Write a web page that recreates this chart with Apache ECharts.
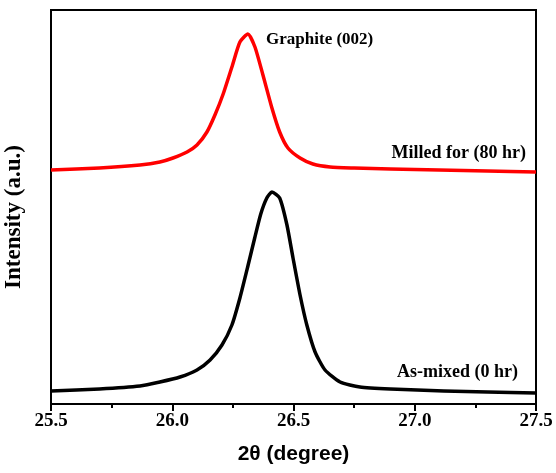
<!DOCTYPE html>
<html>
<head>
<meta charset="utf-8">
<script src="https://cdn.jsdelivr.net/npm/echarts@6/dist/echarts.min.js"></script>
<style>
  html, body { margin: 0; padding: 0; background: #fff; }
  #chart { width: 556px; height: 473px; }
</style>
</head>
<body>
<div id="chart"></div>
<script>
// 2θ 位置 (degree) 和强度 (a.u.)
var milledX = [25.5, 25.7, 25.867, 25.949, 26.003, 26.061, 26.102, 26.143, 26.176, 26.21, 26.246, 26.279, 26.312, 26.341, 26.374, 26.411, 26.443, 26.477, 26.527, 26.58, 26.651, 26.75, 26.9, 27.1, 27.3, 27.5];
var milledY = [234, 236, 239, 242, 246, 252, 259, 272, 289, 310, 337, 362, 370, 357, 329, 296, 272, 256, 246, 240, 237, 236, 235, 234, 233, 232];

var mixedX = [25.5, 25.7, 25.867, 25.949, 26.032, 26.102, 26.156, 26.205, 26.246, 26.279, 26.312, 26.34, 26.365, 26.39, 26.411, 26.443, 26.473, 26.498, 26.527, 26.555, 26.589, 26.63, 26.692, 26.774, 26.9, 27.12, 27.3, 27.5];
var mixedY = [13, 15, 18, 22, 27, 34, 44, 59, 79, 106, 138, 166, 190, 206, 212, 206, 179, 146, 109, 79, 52, 34, 22, 17, 15, 13, 12, 11];

function pairs(xs, ys) {
    return xs.map(function (x, i) { return [x, ys[i]]; });
}

var chart = echarts.init(document.getElementById('chart'));

var serif = '"Liberation Serif", "Times New Roman", serif';

var option = {
    animation: false,
    grid: {
        left: 51,
        right: 20,
        top: 10,
        bottom: 69,
        outerBoundsMode: 'none',
        containLabel: false,
        show: true,
        borderColor: '#000',
        borderWidth: 2,
        backgroundColor: 'transparent'
    },
    xAxis: {
        type: 'value',
        min: 25.5,
        max: 27.5,
        interval: 0.5,
        name: '2θ (degree)',
        nameLocation: 'middle',
        nameGap: 40,
        nameTextStyle: {
            fontFamily: '"Liberation Sans", Arial, sans-serif',
            fontWeight: 'bold',
            fontSize: 21,
            color: '#000'
        },
        axisLine: { lineStyle: { color: '#000', width: 2 } },
        axisTick: { inside: false, length: 7, lineStyle: { color: '#000', width: 2 } },
        minorTick: { show: true, splitNumber: 2, length: 4, lineStyle: { color: '#000', width: 2 } },
        splitLine: { show: false },
        axisLabel: {
            margin: 8,
            fontFamily: serif,
            fontWeight: 'bold',
            fontSize: 19,
            color: '#000',
            formatter: function (v) { return v.toFixed(1); }
        }
    },
    yAxis: {
        type: 'value',
        min: 0,
        max: 394,
        name: 'Intensity (a.u.)',
        nameLocation: 'middle',
        nameGap: 25,
        nameTextStyle: {
            fontFamily: serif,
            fontWeight: 'bold',
            fontSize: 23,
            color: '#000',
            padding: [0, 20, 0, 0]
        },
        axisLine: { show: true, lineStyle: { color: '#000', width: 2 } },
        axisTick: { show: false },
        axisLabel: { show: false },
        splitLine: { show: false }
    },
    series: [{
        name: 'Milled for (80 hr)',
        type: 'line',
        smooth: 0.2,
        symbol: 'none',
        lineStyle: { color: '#ff0000', width: 3.5, join: 'round' },
        data: pairs(milledX, milledY),
        markPoint: {
            symbol: 'circle',
            symbolSize: 0,
            label: {
                show: true,
                fontFamily: serif,
                fontWeight: 'bold',
                fontSize: 18,
                color: '#000'
            },
            data: [{
                coord: [26.387, 364],
                label: { formatter: 'Graphite (002)', align: 'left', verticalAlign: 'middle', fontSize: 17 }
            }, {
                coord: [27.459, 251],
                label: { formatter: 'Milled for (80 hr)', align: 'right', verticalAlign: 'middle' }
            }]
        }
    }, {
        name: 'As-mixed (0 hr)',
        type: 'line',
        smooth: 0.2,
        symbol: 'none',
        lineStyle: { color: '#000', width: 3.5, join: 'round' },
        data: pairs(mixedX, mixedY),
        markPoint: {
            symbol: 'circle',
            symbolSize: 0,
            label: {
                show: true,
                fontFamily: serif,
                fontWeight: 'bold',
                fontSize: 18,
                color: '#000'
            },
            data: [{
                coord: [27.426, 32],
                label: { formatter: 'As-mixed (0 hr)', align: 'right', verticalAlign: 'middle' }
            }]
        }
    }]
};

chart.setOption(option);
</script>
</body>
</html>
